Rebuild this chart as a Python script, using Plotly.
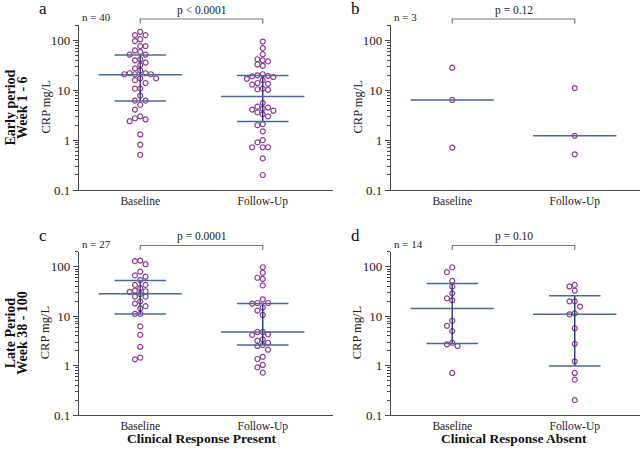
import math
import plotly.graph_objects as go

groups = ["Baseline", "Follow-Up"]

# CRP values (mg/L)
a_base = [149, 128, 128, 106, 97, 77, 77, 63, 59, 52, 52, 42, 40, 36, 32, 27.5, 25, 22, 22, 21,
          21, 21, 17.4, 17.4, 16, 14, 10.8, 10.8, 7.8, 6.2, 6.2, 5.1, 4.1, 3.0, 2.75, 2.6, 2.4, 1.3, 0.81, 0.51]
a_follow = [95, 70, 53, 42, 40, 38, 33, 31, 21, 20, 19.5, 19, 18.5, 17, 16, 14, 13.5, 13, 10.8, 10.5,
            10.2, 5.6, 4.7, 4.5, 4.3, 4.1, 3.9, 3.6, 3.3, 3.0, 2.1, 2.0, 1.5, 1.0, 0.9, 0.72, 0.72, 0.72, 0.43, 0.2]
b_base = [28.4, 6.4, 0.71]
b_follow = [11.1, 1.22, 0.52]
c_base = [134, 130, 113, 80, 67, 63, 54, 43, 43, 37, 33, 32, 31, 28, 25, 25, 20, 18, 16, 14.4,
          11.2, 11.2, 6.2, 4.2, 2.4, 1.45, 1.34]
c_follow = [98, 76, 60, 57, 42, 22, 18.5, 18.5, 18, 15, 13, 10.6, 4.8, 4.8, 4.3, 4.2, 3.4, 3.2,
            2.9, 2.6, 2.5, 2.1, 1.5, 1.36, 1.03, 0.92, 0.72]
d_base = [98, 78, 52, 40, 29, 23, 21, 8.1, 6.4, 5.0, 2.9, 2.7, 2.5, 0.71]
d_follow = [43, 40, 33, 20, 20, 15.7, 11.4, 10.9, 5.7, 2.76, 1.22, 0.71, 0.52, 0.2]

# median and interquartile range drawn in each panel [Baseline, Follow-Up]
a_median, a_q1, a_q3 = [20.6, 7.5], [6.1, 2.36], [51, 19.7]
b_median, b_q1, b_q3 = [6.4, 1.22], [None, None], [None, None]
c_median, c_q1, c_q3 = [28.5, 4.8], [11.1, 2.6], [53, 18.1]
d_median, d_q1, d_q3 = [14.4, 10.9], [2.8, 0.98], [46, 26]

panel_letters = ["a", "b", "c", "d"]
n_labels = ["n = 40", "n = 3", "n = 27", "n = 14"]
p_labels = ["p < 0.0001", "p = 0.12", "p = 0.0001", "p = 0.10"]
row_titles = [["Early period", "Week 1 - 6"], ["Late Period", "Week 38 - 100"]]
col_titles = ["Clinical Response Present", "Clinical Response Absent"]

W, H = 640, 451
FONT = "Liberation Serif"
PURPLE = "#8d3d92"
MED = "#4a6a92"
VERT = "#2b3672"
AXIS = "#4a4a4a"

def fx(px):
    return px / W

def fy(py):
    return 1 - py / H

# pixel boxes of each panel: left, right, top, bottom
boxes = [(79, 333, 25, 190), (391, 640, 25, 190), (79, 333, 251.5, 415), (391, 640, 251.5, 415)]
PX_PER_UNIT = 122.5
YR = [-1, 2.31]

def swarm(vals, center, px_decade):
    order = sorted(range(len(vals)), key=lambda i: -vals[i])
    placed = []
    cols = [0] * len(vals)
    for i in order:
        lv = math.log10(vals[i])
        for k in [0, -1, 1, -2, 2, -3, 3, -4, 4]:
            if all(pc != k or abs(lv - pl) * px_decade >= 5.2 for pl, pc in placed):
                break
        placed.append((lv, k))
        cols[i] = k
    step = 5.3 / PX_PER_UNIT
    return [center + c * step for c in cols]

def note(text, x, y, size, xref="paper", xanchor="center", angle=0, color="#222"):
    return dict(text=text, x=x, y=y, xref=xref, yref="paper", xanchor=xanchor, yanchor="middle",
                textangle=angle, showarrow=False, font=dict(family=FONT, size=size, color=color))

data = [(a_base, a_follow, a_median, a_q1, a_q3),
        (b_base, b_follow, b_median, b_q1, b_q3),
        (c_base, c_follow, c_median, c_q1, c_q3),
        (d_base, d_follow, d_median, d_q1, d_q3)]

fig = go.Figure()
minor_vals = [k * 10 ** e for e in range(-1, 3) for k in range(2, 10)]
layout = {}
annotations = []
shapes = []

for p, (base, follow, med, q1, q3) in enumerate(data):
    sfx = "" if p == 0 else str(p + 1)
    xa, ya = "x" + sfx, "y" + sfx
    left, right, top, bottom = boxes[p]
    px_decade = (bottom - top) / (YR[1] - YR[0])
    layout["xaxis" + sfx] = dict(
        domain=[fx(left), min(1.0, fx(right))], anchor=ya,
        range=[0.5, 0.5 + (right - left) / PX_PER_UNIT],
        tickvals=[1, 2], ticktext=groups, ticks="", ticklen=0, showline=True, linecolor=AXIS,
        linewidth=1.2, showgrid=False, zeroline=False, tickfont=dict(family=FONT, size=11.5, color="#222"))
    layout["yaxis" + sfx] = dict(
        domain=[fy(bottom), fy(top)], anchor=xa, type="log", range=YR,
        tickvals=[0.1, 1, 10, 100], ticktext=["0.1", "1", "10", "100"],
        ticks="outside", ticklen=5, tickwidth=1, tickcolor=AXIS,
        minor=dict(tickvals=minor_vals, ticks="outside", ticklen=2.5, tickcolor=AXIS, showgrid=False),
        showline=True, linecolor=AXIS, linewidth=1.2, showgrid=False, zeroline=False,
        tickfont=dict(family=FONT, size=13, color="#222"))

    for g, vals in enumerate([base, follow]):
        cx = g + 1
        fig.add_trace(go.Scatter(
            x=swarm(vals, cx, px_decade), y=vals, mode="markers", xaxis=xa, yaxis=ya,
            marker=dict(symbol="circle-open", size=5, color=PURPLE, line=dict(width=1.2, color=PURPLE)),
            showlegend=False, hoverinfo="y"))
        if q1[g] is not None:
            fig.add_trace(go.Scatter(x=[cx, cx], y=[q1[g], q3[g]], mode="lines", xaxis=xa, yaxis=ya,
                                     line=dict(color=VERT, width=1.4), showlegend=False))
            for q in (q1[g], q3[g]):
                fig.add_trace(go.Scatter(x=[cx - 0.21, cx + 0.21], y=[q, q], mode="lines", xaxis=xa,
                                         yaxis=ya, line=dict(color=MED, width=1.5), showlegend=False))
        fig.add_trace(go.Scatter(x=[cx - 0.34, cx + 0.34], y=[med[g], med[g]], mode="lines",
                                 xaxis=xa, yaxis=ya, line=dict(color=MED, width=1.5), showlegend=False))

    # panel letter, n label, p bracket, y title
    annotations.append(note(panel_letters[p], fx(left - 36), fy(top - 16), 17, color="#111"))
    annotations.append(note(n_labels[p], fx(left + 1), fy(top - 8), 11, xanchor="left"))
    annotations.append(note(p_labels[p], 1.5, fy(top - 15), 11.5, xref=xa))
    shapes.append(dict(type="path", xref=xa, yref="paper",
                       path="M 1,%f L 1,%f L 2,%f L 2,%f" % (fy(top - 1.5), fy(top - 6), fy(top - 6), fy(top - 1.5)),
                       line=dict(color="#777", width=1.2)))
    annotations.append(note("CRP mg/L", fx(left - 34), fy((top + bottom) / 2), 12.5, angle=-90))

for r, (t1, t2) in enumerate(row_titles):
    top, bottom = boxes[2 * r][2], boxes[2 * r][3]
    for i, t in enumerate((t1, t2)):
        annotations.append(note("<b>%s</b>" % t, fx(10 + 12.5 * i), fy((top + bottom) / 2), 14,
                                angle=-90, color="#111"))

for c, t in enumerate(col_titles):
    annotations.append(note("<b>%s</b>" % t, 1.5, fy(438), 13.5, xref="x" + str(c + 3), color="#111"))

fig.update_layout(width=W, height=H, margin=dict(l=0, r=0, t=0, b=0, autoexpand=False),
                  plot_bgcolor="white", paper_bgcolor="white", annotations=annotations, shapes=shapes,
                  **layout)

fig.write_html("out.html", config={"displayModeBar": False},
               post_script="document.body.style.margin='0';")
